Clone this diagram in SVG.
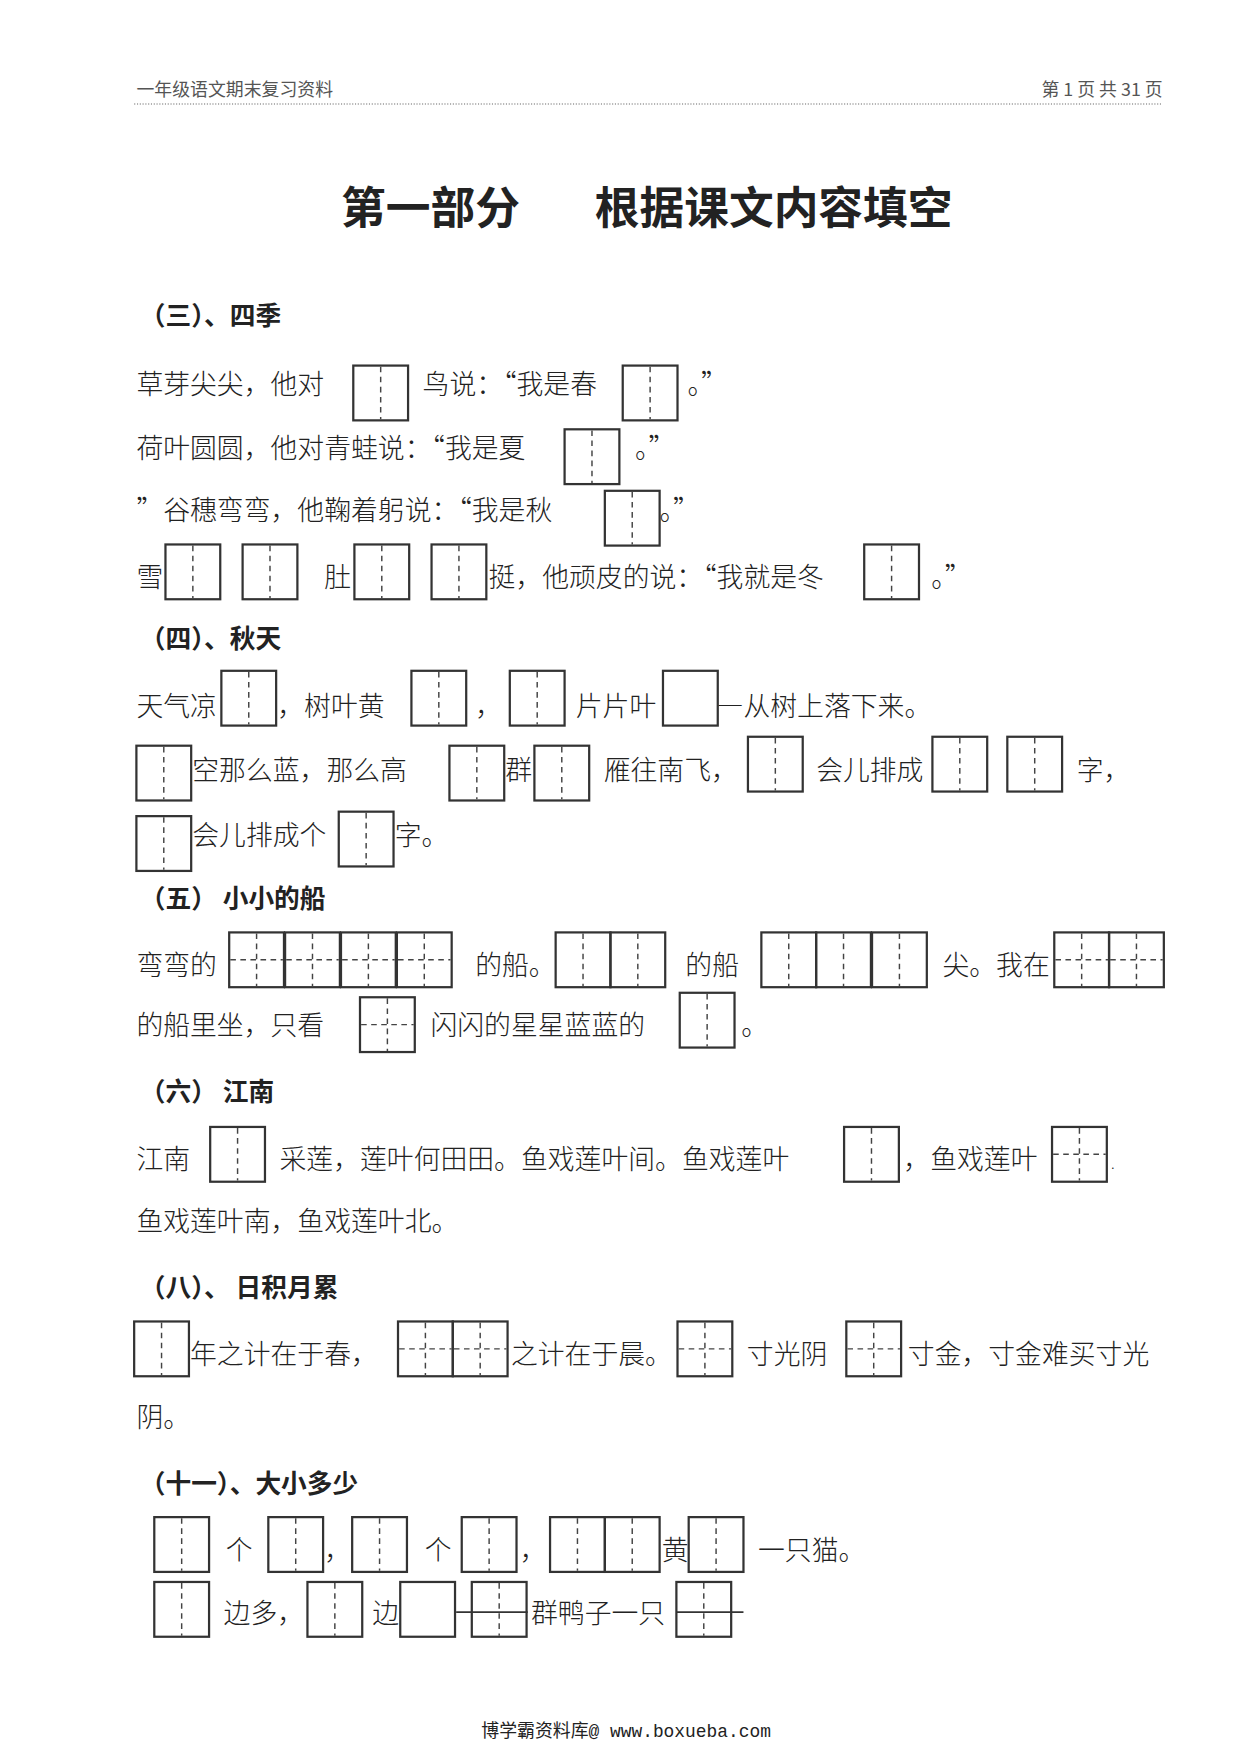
<svg xmlns="http://www.w3.org/2000/svg" width="1241" height="1755" viewBox="0 0 1241 1755">
<style>
text{font-family:"Noto Sans CJK SC","Liberation Serif",serif;fill:#222}
.t{font-size:24px;font-weight:300;font-feature-settings:"fwid"}
.h{font-size:23px;font-weight:bold;font-family:"Noto Sans CJK SC",sans-serif}
.r{fill:none;stroke:#333;stroke-width:2}
.d{stroke:#444;stroke-width:1.3;stroke-dasharray:5,4}
.s{stroke:#333;stroke-width:1.5}
</style>
<defs>
<g id="v"><rect class="r" x="0" y="0" width="49" height="49"/><line class="d" x1="24.5" y1="1" x2="24.5" y2="48"/></g>
<g id="c"><rect class="r" x="0" y="0" width="49" height="49"/><line class="d" x1="24.5" y1="1" x2="24.5" y2="48"/><line class="d" x1="1" y1="24.5" x2="48" y2="24.5"/></g>
<g id="e"><rect class="r" x="0" y="0" width="49" height="49"/></g>
</defs>
<rect width="1241" height="1755" fill="#fff"/>
<g transform="scale(1.118)">
<g id="header">
<text x="122" y="86" style="font-size:16px;fill:#555">一年级语文期末复习资料</text>
<text x="1040" y="86" text-anchor="end" style="font-size:16px;fill:#555">第 1 页 共 31 页</text>
<line x1="120" y1="93" x2="1040" y2="93" stroke="#666" stroke-width="1" stroke-dasharray="1,1.5"/>
</g>
<g id="title">
<text x="305" y="200" style="font-size:40px;font-weight:bold;font-family:'Noto Sans CJK SC',sans-serif">第一部分</text>
<text x="532" y="200" style="font-size:40px;font-weight:bold;font-family:'Noto Sans CJK SC',sans-serif">根据课文内容填空</text>
</g>
<g id="s3">
<text class="h" x="125" y="291">（三）、四季</text>
<text class="t" x="122" y="352">草芽尖尖，他对</text><use href="#v" x="316" y="327"/>
<text class="t" x="378" y="352">鸟说：“我是春</text><use href="#v" x="557" y="327"/><text class="t" x="615" y="352">。”</text>
<text class="t" x="122" y="410">荷叶圆圆，他对青蛙说：“我是夏</text><use href="#v" x="505" y="384"/><text class="t" x="568" y="410">。”</text>
<text class="t" x="122" y="465">”谷穗弯弯，他鞠着躬说：“我是秋</text><use href="#v" x="541" y="439"/><text class="t" x="590" y="465">。”</text>
<text class="t" x="122" y="525">雪</text><use href="#v" x="148" y="487"/><use href="#v" x="217" y="487"/>
<text class="t" x="290" y="525">肚</text><use href="#v" x="317" y="487"/><use href="#v" x="386" y="487"/>
<text class="t" x="437" y="525">挺，他顽皮的说：“我就是冬</text><use href="#v" x="773" y="487"/><text class="t" x="833" y="525">。”</text>
</g>
<g id="s4">
<text class="h" x="125" y="580">（四）、秋天</text>
<text class="t" x="122" y="640">天气凉</text><use href="#v" x="198" y="600"/>
<text class="t" x="248" y="640">，树叶黄</text><use href="#v" x="368" y="600"/>
<text class="t" x="425" y="640">，</text><use href="#v" x="456" y="600"/>
<text class="t" x="515" y="640">片片叶</text><use href="#e" x="593" y="600"/>
<text class="t" x="641" y="640">—从树上落下来。</text>
<use href="#v" x="122" y="667"/><text class="t" x="172" y="698">空那么蓝，那么高</text>
<use href="#v" x="402" y="667"/><text class="t" x="452" y="698">群</text><use href="#v" x="478" y="667"/>
<text class="t" x="540" y="698">雁往南飞，</text><use href="#v" x="669" y="659"/>
<text class="t" x="730" y="698">会儿排成</text><use href="#v" x="834" y="659"/><use href="#v" x="901" y="659"/>
<text class="t" x="963" y="698">字，</text>
<use href="#v" x="122" y="730"/><text class="t" x="172" y="756">会儿排成个</text><use href="#v" x="303" y="726"/><text class="t" x="353" y="756">字。</text>
</g>
<g id="s5">
<text class="h" x="125" y="812">（五） 小小的船</text>
<text class="t" x="122" y="872">弯弯的</text>
<use href="#c" x="205" y="834"/><use href="#c" x="255" y="834"/><use href="#c" x="305" y="834"/><use href="#c" x="355" y="834"/>
<text class="t" x="425" y="872">的船。</text>
<use href="#v" x="497" y="834"/><use href="#v" x="546" y="834"/>
<text class="t" x="613" y="872">的船</text>
<use href="#v" x="681" y="834"/><use href="#v" x="730" y="834"/><use href="#v" x="780" y="834"/>
<text class="t" x="843" y="872">尖。我在</text>
<use href="#c" x="943" y="834"/><use href="#c" x="992" y="834"/>
<text class="t" x="122" y="926">的船里坐，只看</text><use href="#c" x="322" y="892"/>
<text class="t" x="385" y="926">闪闪的星星蓝蓝的</text><use href="#v" x="608" y="888"/><text class="t" x="663" y="926">。</text>
</g>
<g id="s6">
<text class="h" x="125" y="985">（六） 江南</text>
<text class="t" x="122" y="1046">江南</text><use href="#v" x="188" y="1008"/>
<text class="t" x="250" y="1046">采莲，莲叶何田田。鱼戏莲叶间。鱼戏莲叶</text><use href="#v" x="755" y="1008"/>
<text class="t" x="808" y="1046">，鱼戏莲叶</text><use href="#c" x="941" y="1008"/><text x="994" y="1046" style="font-size:10px">.</text>
<text class="t" x="122" y="1101">鱼戏莲叶南，鱼戏莲叶北。</text>
</g>
<g id="s8">
<text class="h" x="125" y="1160">（八）、 日积月累</text>
<use href="#v" x="120" y="1182"/><text class="t" x="170" y="1220">年之计在于春，</text>
<use href="#c" x="356" y="1182"/><use href="#c" x="405" y="1182"/>
<text class="t" x="457" y="1220">之计在于晨。</text><use href="#c" x="606" y="1182"/>
<text class="t" x="668" y="1220">寸光阴</text><use href="#c" x="757" y="1182"/>
<text class="t" x="812" y="1220">寸金，寸金难买寸光</text>
<text class="t" x="122" y="1276">阴。</text>
</g>
<g id="s11">
<text class="h" x="125" y="1335">（十一）、大小多少</text>
<use href="#v" x="138" y="1357"/><text class="t" x="202" y="1395">个</text>
<use href="#v" x="240" y="1357"/><text class="t" x="290" y="1395">，</text>
<use href="#v" x="315" y="1357"/><text class="t" x="380" y="1395">个</text>
<use href="#v" x="413" y="1357"/><text class="t" x="465" y="1395">，</text>
<use href="#v" x="492" y="1357"/><use href="#v" x="541" y="1357"/>
<text class="t" x="592" y="1395">黄</text><use href="#v" x="616" y="1357"/>
<text class="t" x="678" y="1395">一只猫。</text>
<use href="#v" x="138" y="1415"/><text class="t" x="200" y="1452">边多，</text>
<use href="#v" x="275" y="1415"/><text class="t" x="333" y="1452">边</text>
<use href="#e" x="358" y="1415"/><use href="#v" x="422" y="1415"/>
<line class="s" x1="408" y1="1442" x2="472" y2="1442"/>
<text class="t" x="475" y="1452">群鸭子一只</text><use href="#v" x="605" y="1415"/>
<line class="s" x1="605" y1="1442" x2="665" y2="1442"/>
</g>
<g id="footer">
<text x="560" y="1554" text-anchor="middle" style="font-size:16px;font-family:'Liberation Mono','Noto Sans CJK SC',monospace">博学霸资料库@ www.boxueba.com</text>
</g>
</g>
</svg>
